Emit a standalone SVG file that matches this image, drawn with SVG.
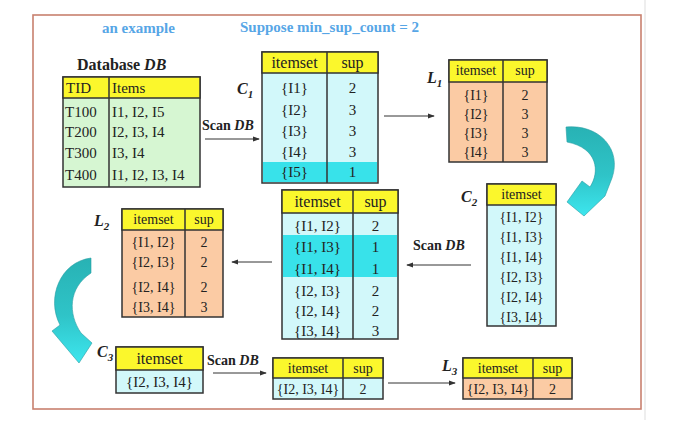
<svg xmlns="http://www.w3.org/2000/svg" width="673" height="442" viewBox="0 0 673 442">
<defs>
<style>
.t{font-family:"Liberation Serif",serif;fill:#222;}
.hd{fill:#fbf72c;stroke:#333;stroke-width:1.5;}
.grn{fill:#d6f6d2;stroke:#333;stroke-width:1.5;}
.cyn{fill:#d2f8fa;stroke:#333;stroke-width:1.5;}
.pch{fill:#fbcba4;stroke:#333;stroke-width:1.5;}
.hil{fill:#38e2ea;}
.dv{stroke:#333;stroke-width:1.5;}
.ttl{font-family:"Liberation Serif",serif;font-weight:bold;fill:#57a6e6;font-size:15px;}
.lbl{font-family:"Liberation Serif",serif;font-weight:bold;font-style:italic;fill:#222;font-size:16px;}
.scan{font-family:"Liberation Serif",serif;font-weight:bold;fill:#222;font-size:14px;}
.cn{stroke:#333;stroke-width:1;fill:none;marker-end:url(#ah);}
</style>
<marker id="ah" viewBox="0 0 8 8" refX="7" refY="4" markerWidth="7" markerHeight="7" markerUnits="userSpaceOnUse" orient="auto">
<path d="M0,1 L8,4 L0,7 Z" fill="#333"/>
</marker>
<linearGradient id="g1" x1="0" y1="0" x2="0" y2="1">
<stop offset="0" stop-color="#28b2b4"/>
<stop offset="0.55" stop-color="#2fc4c8"/>
<stop offset="1" stop-color="#3de6ee"/>
</linearGradient>
</defs>
<rect width="673" height="442" fill="#fff"/>
<line x1="645" y1="0" x2="645" y2="420" stroke="#ddd" stroke-width="1"/>
<rect x="33" y="15" width="608" height="394" fill="none" stroke="#c8806e" stroke-width="1.6"/>

<text class="ttl" x="102" y="33" font-size="17">an example</text>
<text class="ttl" x="240" y="32">Suppose min_sup_count = 2</text>

<g id="db">
<text x="77" y="70" class="t" font-size="16" font-weight="bold">Database <tspan font-style="italic">DB</tspan></text>
<rect class="grn" x="63" y="77" width="137" height="110"/>
<rect class="hd" x="63" y="77" width="137" height="21"/>
<line class="dv" x1="109" y1="77" x2="109" y2="187"/>
<g class="t" font-size="15">
<text x="66" y="93">TID</text><text x="112" y="93">Items</text>
<text x="65" y="117">T100</text><text x="112" y="117">I1, I2, I5</text>
<text x="65" y="137">T200</text><text x="112" y="137">I2, I3, I4</text>
<text x="65" y="158">T300</text><text x="112" y="158">I3, I4</text>
<text x="65" y="180">T400</text><text x="112" y="180">I1, I2, I3, I4</text>
</g>
</g>

<g id="c1">
<text class="lbl" x="237" y="94">C<tspan font-size="11" dy="4">1</tspan></text>
<rect class="cyn" x="262" y="52" width="116" height="131"/>
<rect class="hil" x="263" y="162" width="114" height="20"/>
<rect class="hd" x="262" y="52" width="116" height="21"/>
<line class="dv" x1="327" y1="52" x2="327" y2="183"/>
<g class="t" font-size="15" text-anchor="middle">
<text x="294.5" y="68" font-size="16">itemset</text><text x="352.5" y="68" font-size="16">sup</text>
<text x="294.5" y="93">{I1}</text><text x="352.5" y="93">2</text>
<text x="294.5" y="115">{I2}</text><text x="352.5" y="115">3</text>
<text x="294.5" y="136">{I3}</text><text x="352.5" y="136">3</text>
<text x="294.5" y="157">{I4}</text><text x="352.5" y="157">3</text>
<text x="294.5" y="177">{I5}</text><text x="352.5" y="177">1</text>
</g>
</g>

<g id="l1">
<text class="lbl" x="427" y="83">L<tspan font-size="11" dy="4">1</tspan></text>
<rect class="pch" x="449" y="60" width="98" height="102"/>
<rect class="hd" x="449" y="60" width="98" height="22"/>
<line class="dv" x1="503" y1="60" x2="503" y2="162"/>
<g class="t" font-size="14" text-anchor="middle">
<text x="476" y="75">itemset</text><text x="525" y="75">sup</text>
<text x="476" y="100">{I1}</text><text x="525" y="100">2</text>
<text x="476" y="119">{I2}</text><text x="525" y="119">3</text>
<text x="476" y="138">{I3}</text><text x="525" y="138">3</text>
<text x="476" y="157">{I4}</text><text x="525" y="157">3</text>
</g>
</g>

<g id="c2">
<text class="lbl" x="461" y="202">C<tspan font-size="11" dy="4">2</tspan></text>
<rect class="cyn" x="487" y="184" width="69" height="142"/>
<rect class="hd" x="487" y="184" width="69" height="21"/>
<g class="t" font-size="14" text-anchor="middle">
<text x="521.5" y="199">itemset</text>
<text x="521.5" y="222">{I1, I2}</text>
<text x="521.5" y="242">{I1, I3}</text>
<text x="521.5" y="262">{I1, I4}</text>
<text x="521.5" y="282">{I2, I3}</text>
<text x="521.5" y="302">{I2, I4}</text>
<text x="521.5" y="322">{I3, I4}</text>
</g>
</g>

<g id="c2count">
<rect class="cyn" x="282" y="190" width="116" height="149"/>
<rect class="hil" x="283" y="235" width="114" height="42"/>
<rect class="hd" x="282" y="190" width="116" height="23"/>
<line class="dv" x1="353" y1="190" x2="353" y2="339"/>
<g class="t" font-size="15" text-anchor="middle">
<text x="317.5" y="207" font-size="16">itemset</text><text x="375.5" y="207" font-size="16">sup</text>
<text x="317.5" y="231">{I1, I2}</text><text x="375.5" y="231">2</text>
<text x="317.5" y="252">{I1, I3}</text><text x="375.5" y="252">1</text>
<text x="317.5" y="274">{I1, I4}</text><text x="375.5" y="274">1</text>
<text x="317.5" y="296">{I2, I3}</text><text x="375.5" y="296">2</text>
<text x="317.5" y="316">{I2, I4}</text><text x="375.5" y="316">2</text>
<text x="317.5" y="336">{I3, I4}</text><text x="375.5" y="336">3</text>
</g>
</g>

<g id="l2">
<text class="lbl" x="94" y="226">L<tspan font-size="11" dy="4">2</tspan></text>
<rect class="pch" x="122" y="209" width="101" height="108"/>
<rect class="hd" x="122" y="209" width="101" height="21"/>
<line class="dv" x1="185" y1="209" x2="185" y2="317"/>
<g class="t" font-size="14" text-anchor="middle">
<text x="153.5" y="224">itemset</text><text x="204" y="224">sup</text>
<text x="153.5" y="247">{I1, I2}</text><text x="204" y="247">2</text>
<text x="153.5" y="267">{I2, I3}</text><text x="204" y="267">2</text>
<text x="153.5" y="292">{I2, I4}</text><text x="204" y="292">2</text>
<text x="153.5" y="312">{I3, I4}</text><text x="204" y="312">3</text>
</g>
</g>

<g id="c3">
<text class="lbl" x="97" y="357">C<tspan font-size="11" dy="4">3</tspan></text>
<rect class="cyn" x="116" y="347" width="87" height="46"/>
<rect class="hd" x="116" y="347" width="87" height="23"/>
<g class="t" font-size="15" text-anchor="middle">
<text x="159.5" y="364" font-size="16">itemset</text>
<text x="159.5" y="387">{I2, I3, I4}</text>
</g>
</g>

<g id="c3count">
<rect class="cyn" x="273" y="358" width="110" height="41"/>
<rect class="hd" x="273" y="358" width="110" height="20"/>
<line class="dv" x1="343" y1="358" x2="343" y2="399"/>
<g class="t" font-size="14" text-anchor="middle">
<text x="308" y="373">itemset</text><text x="363" y="373">sup</text>
<text x="308" y="394">{I2, I3, I4}</text><text x="363" y="394">2</text>
</g>
</g>

<g id="l3">
<text class="lbl" x="442" y="371">L<tspan font-size="11" dy="4">3</tspan></text>
<rect class="pch" x="463" y="358" width="109" height="41"/>
<rect class="hd" x="463" y="358" width="109" height="20"/>
<line class="dv" x1="533" y1="358" x2="533" y2="399"/>
<g class="t" font-size="14" text-anchor="middle">
<text x="498" y="373">itemset</text><text x="552.5" y="373">sup</text>
<text x="498" y="394">{I2, I3, I4}</text><text x="552.5" y="394">2</text>
</g>
</g>

<g id="connectors">
<text class="scan" x="202" y="130">Scan <tspan font-style="italic">DB</tspan></text>
<line class="cn" x1="205" y1="139" x2="259" y2="139"/>
<line class="cn" x1="384" y1="116" x2="434" y2="116"/>
<text class="scan" x="413" y="250">Scan <tspan font-style="italic">DB</tspan></text>
<line class="cn" x1="471" y1="265" x2="407" y2="265"/>
<line class="cn" x1="272" y1="262" x2="232" y2="262"/>
<text class="scan" x="207" y="365">Scan <tspan font-style="italic">DB</tspan></text>
<line class="cn" x1="213" y1="373" x2="266" y2="373"/>
<line class="cn" x1="388" y1="383" x2="455" y2="383"/>
<path d="M566,127 C600,124 622,150 612,178 L605,196 L584,216 L567,202 L582,181 L590,187 C600,172 598,148 567,142 Z" fill="url(#g1)" stroke="#2a9ea2" stroke-width="0.6"/>
<path d="M91,258 C60,262 46,298 60,325 L52,331 L79,363 L92,343 L81,333 C68,314 68,288 91,273 Z" fill="url(#g1)" stroke="#2a9ea2" stroke-width="0.6"/>
</g>
</svg>
